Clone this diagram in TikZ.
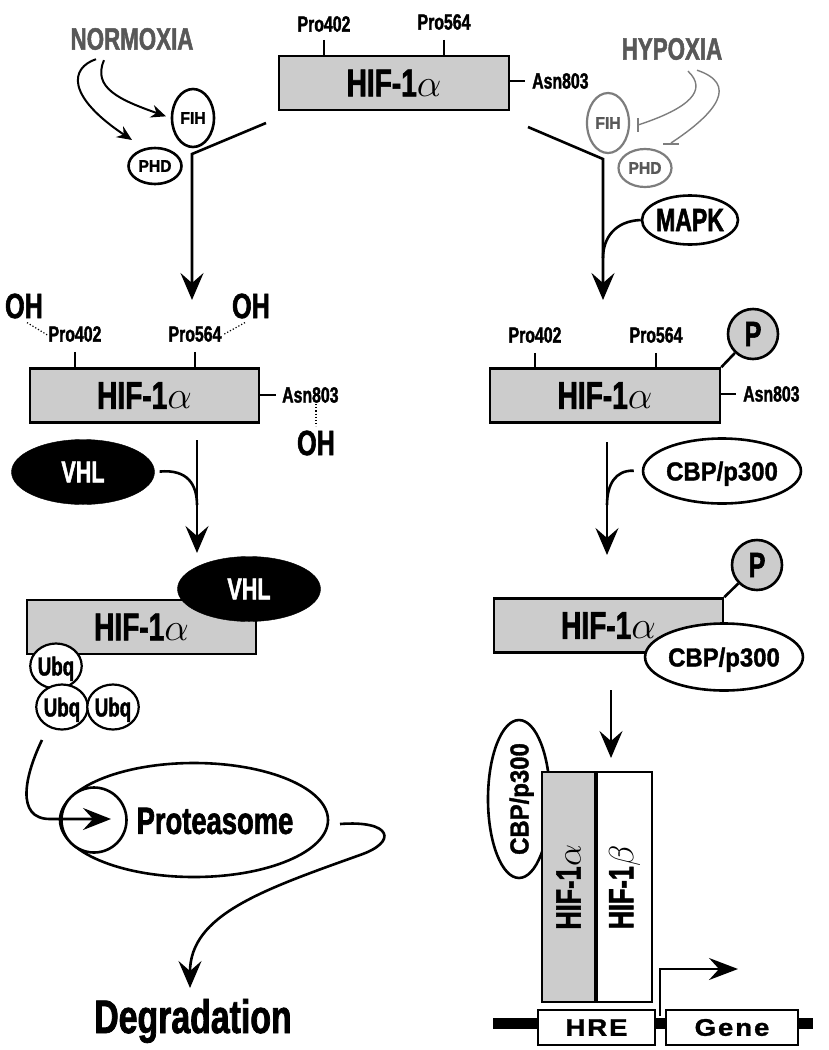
\RequirePackage{fix-cm}
\documentclass[tikz,border=0pt]{standalone}
\usepackage{fontspec}
\setmainfont{Liberation Sans}
\newfontfamily\cfam{Liberation Sans}[FakeStretch=0.72,FakeBold=1.6]
\newfontfamily\cwam{Liberation Sans}[FakeStretch=0.92,FakeBold=1.4]
\newfontfamily\cxam{Liberation Sans}[FakeStretch=1.15,LetterSpace=8,FakeBold=1.2]
\usetikzlibrary{arrows.meta,shapes.geometric,calc}
\definecolor{boxgray}{RGB}{204,204,204}
\definecolor{txtgray}{RGB}{88,88,88}
\definecolor{lngray}{RGB}{125,125,125}
\newcommand\fsz[1]{\fontsize{#1}{#1}\selectfont}
\newcommand\hifa[1]{{\fsz{#1}\cfam\bfseries HIF-1}{\fsz{#1}$\alpha$}}
\newcommand\hifb[1]{{\fsz{#1}\cfam\bfseries HIF-1}{\fsz{#1}$\beta$}}
\begin{document}
\begin{tikzpicture}[x=1pt,y=-1pt,line join=miter,
  ln/.style={line width=2.6pt},
  thin/.style={line width=2pt},
  bigtip/.style={-{Stealth[length=27pt,width=23pt,inset=10pt]}},
  arr/.style={ln,bigtip},
  hbox/.style={draw,line width=2.6pt,fill=boxgray,inner sep=0pt,minimum width=229pt,minimum height=54pt},
  lbl/.style={inner sep=0pt,font={\cfam\bfseries\fsz{22}}},
  oh/.style={inner sep=0pt,font={\cfam\bfseries\fsz{35}}},
  dots/.style={line width=1.2pt,dotted},
  ell/.style={ellipse,draw,line width=2.6pt,fill=white,inner sep=0pt},
  small/.style={font={\cwam\bfseries\fsz{17}}},
  cbp/.style={ell,font={\cwam\bfseries\fsz{26}},text depth=0pt},
  vhl/.style={ellipse,draw,fill=black,text=white,inner sep=0pt,minimum width=143pt,minimum height=65pt,font={\cfam\bfseries\fsz{30}}},
  ubq/.style={ellipse,draw,line width=2.2pt,fill=white,inner sep=0pt,minimum width=51pt,minimum height=45pt,font={\cfam\bfseries\fsz{26}},text depth=0pt},
  pc/.style={circle,draw,line width=2.6pt,fill=boxgray,inner sep=0pt,minimum size=50pt,font={\cfam\bfseries\fsz{35}}},
  gtext/.style={inner sep=0pt,text=txtgray,font={\cfam\bfseries\fsz{31}}},
  gell/.style={ellipse,draw=lngray,line width=2.2pt,fill=white,inner sep=0pt,text=txtgray,font={\cwam\bfseries\fsz{17}}},
  gln/.style={draw=lngray,line width=1.4pt},
  dbox/.style={draw,line width=2.6pt,fill=white,inner sep=0pt,minimum height=35pt,font={\cxam\bfseries\fsz{24}}}
]
\useasboundingbox (0,0) rectangle (828,1050);
\fill[white] (0,0) rectangle (828,1050);

% ---------------- top HIF-1alpha ----------------
\node[hbox,minimum width=230pt] (top) at (394,83) {\hifa{39}};
\node[lbl] (t402) at (324,24) {Pro402};
\node[lbl] (t564) at (444,22) {Pro564};
\draw[ln] ($(t402.south)+(0,8)$) -- (t402.south |- top.north);
\draw[ln] ($(t564.south)+(0,10)$) -- (t564.south |- top.north);
\node[lbl,anchor=west] (tasn) at (532,81) {Asn803};
\draw[ln,shorten >=7pt] (top.east |- tasn) -- (tasn.west);

% ---------------- normoxia ----------------
\node[gtext] (norm) at (132,39) {NORMOXIA};
\node[ell,small,minimum width=42pt,minimum height=58pt] (fih) at (193,118) {FIH};
\node[ell,small,minimum width=53pt,minimum height=36pt] (phd) at (155,166) {PHD};
\coordinate (phdtip) at (132,140);
\draw[thin,-{Stealth[length=15pt,width=13pt,inset=5pt]},shorten >=5pt]
  ($(norm.south)+(-28,10)$) .. controls (92,88) and (120,100) .. (fih.west);
\draw[thin,-{Stealth[length=15pt,width=13pt,inset=5pt]}]
  ($(norm.south)+(-36,9)$) .. controls (70,68) and (66,96) .. (phdtip);

\coordinate (ly1) at (266,123);
\coordinate (ly2) at (192,154);
\coordinate (ly3) at (192,300);
\draw[arr] (ly1) -- (ly2) -- (ly3);

% ---------------- hypoxia ----------------
\node[gtext] (hyp) at (672,49) {HYPOXIA};
\node[gell,minimum width=42pt,minimum height=60pt] (gfih) at (608,123) {FIH};
\node[gell,minimum width=53pt,minimum height=38pt] (gphd) at (645,168) {PHD};
\coordinate (barA) at (638,125);
\coordinate (barB) at (671,143);
\draw[gln] ($(hyp.south)+(16,11)$) .. controls (708,90) and (690,108) .. (barA);
\draw[gln] ($(barA)+(0,-7)$) -- ($(barA)+(0,7)$);
\draw[gln] ($(hyp.south)+(25,10)$) .. controls (738,84) and (718,112) .. (barB);
\draw[gln] ($(barB)+(-8,1)$) -- ($(barB)+(8,1)$);

\node[ell,minimum width=93pt,minimum height=49pt,font={\cfam\bfseries\fsz{32}}] (mapk) at (690,220) {MAPK};
\coordinate (ry1) at (528,127);
\coordinate (ry2) at (603,159);
\coordinate (ry3) at (603,300);
\coordinate (rym) at (603,258);
\draw[arr] (ry1) -- (ry2) -- (ry3);
\draw[ln] (mapk.west) .. controls (615,221) and (603,238) .. (rym);

% ---------------- middle left ----------------
\node[hbox] (ml) at (144.5,395.5) {\hifa{39}};
\node[lbl] (m402) at (75,334) {Pro402};
\node[lbl] (m564) at (195,334) {Pro564};
\draw[ln] ($(m402.south)+(0,10)$) -- (m402.south |- ml.north);
\draw[ln] ($(m564.south)+(0,10)$) -- (m564.south |- ml.north);
\node[oh] (oh1) at (24,306) {OH};
\node[oh] (oh2) at (251,306) {OH};
\draw[dots] ($(oh1.south)+(3,4)$) -- ($(m402.west)+(-1,1)$);
\draw[dots] ($(oh2.south)+(-6,4)$) -- ($(m564.east)+(1,1)$);
\node[lbl,anchor=west] (masn) at (282,395) {Asn803};
\draw[ln,shorten >=6pt] (ml.east |- masn) -- (masn.west);
\node[oh] (oh3) at (316,443) {OH};
\draw[dots,shorten >=4pt,shorten <=1pt] (masn.south -| oh3) -- (oh3.north);

\node[vhl] (vhl1) at (83,472) {VHL};
\coordinate (la1) at (197,440);
\coordinate (la2) at (197,553);
\coordinate (lam) at (197,505);
\draw[arr] (la1) -- (la2);
\draw[ln,shorten <=5pt] (vhl1.east) .. controls (188,469) and (197,485) .. (lam);

% ---------------- bottom left ----------------
\node[hbox] (bl) at (141.5,627) {\hifa{39}};
\node[vhl] (vhl2) at (249,589) {VHL};
\node[ubq] (u1) at (56,666) {Ubq};
\node[ubq] (u2) at (62,707) {Ubq};
\node[ubq] (u3) at (113,707) {Ubq};

% ---------------- proteasome ----------------
\node[ellipse,draw,ln,inner sep=0pt,minimum width=268pt,minimum height=114pt] (prot) at (194,820) {};
\node[circle,draw,ln,fill=white,inner sep=0pt,minimum size=65pt] (pcore) at (94,820) {};
\node[inner sep=0pt,font={\cfam\bfseries\fsz{38}}] (ptxt) at (215,821) {Proteasome};
\coordinate (pin) at (42,740);
\coordinate (pmid) at (50,819);
\coordinate (ptip) at (111,819);
\draw[ln,-{Stealth[length=28pt,width=22pt,inset=10pt]}] (pin) .. controls (25,775) and (15,819) .. (pmid) -- (ptip);
\coordinate (pout) at (340,824);
\coordinate (pturn) at (360,855);
\coordinate (dtip) at (190,988);
\draw[arr] (pout) .. controls (392,820) and (398,842) .. (pturn) .. controls (262,890) and (190,915) .. (dtip);
\node[inner sep=0pt,font={\cfam\bfseries\fsz{47}},anchor=base] (deg) at (193,1033) {Degradation};

% ---------------- middle right ----------------
\node[hbox,minimum width=230pt] (mr) at (605,395.5) {\hifa{39}};
\node[lbl] (r402) at (535,335) {Pro402};
\node[lbl] (r564) at (656,335) {Pro564};
\draw[ln] ($(r402.south)+(0,10)$) -- (r402.south |- mr.north);
\draw[ln] ($(r564.south)+(0,10)$) -- (r564.south |- mr.north);
\node[pc] (p1) at (753,334) {P};
\draw[ln] (mr.north east) -- (p1);
\node[lbl,anchor=west] (rasn) at (743,394) {Asn803};
\draw[ln,shorten >=7pt] (mr.east |- rasn) -- (rasn.west);

\node[cbp,minimum width=142pt,minimum height=65pt] (cbp1) at (722,471) {CBP/p300};
\coordinate (ra1) at (607,442);
\coordinate (ra2) at (607,555);
\coordinate (ram) at (607,505);
\draw[arr] (ra1) -- (ra2);
\draw[ln,shorten <=8pt] (cbp1.west) .. controls (615,470) and (607,485) .. (ram);

% ---------------- bottom right ----------------
\node[hbox] (br) at (608.5,625.5) {\hifa{39}};
\node[pc] (p2) at (757,565) {P};
\draw[ln] (br.north east) -- (p2);
\node[cbp,minimum width=143pt,minimum height=67pt] (cbp2) at (724,657) {CBP/p300};
\coordinate (ba1) at (611,690);
\coordinate (ba2) at (611,758);
\draw[arr] (ba1) -- (ba2);

% ---------------- dimer on DNA ----------------
\node[cbp,rotate=90,minimum width=140pt,minimum height=62pt] (cbp3) at (519,799) {CBP/p300};
\node[draw,line width=2.6pt,fill=boxgray,inner sep=0pt,rotate=90,minimum width=230pt,minimum height=53pt] (va) at (568.5,887) {\hifa{35}};
\node[draw,line width=2.6pt,fill=white,inner sep=0pt,rotate=90,minimum width=230pt,minimum height=55pt] (vb) at (624.5,887) {\hifb{35}};

\coordinate (dnaL) at (493,1023);
\coordinate (dnaR) at (813,1023);
\draw[line width=11pt] (dnaL) -- (dnaR);
\node[dbox,minimum width=117pt] (hre) at (596.5,1027.5) {HRE};
\node[dbox,minimum width=132pt] (gene) at (732,1027.5) {Gene};
\coordinate (tss) at (660,1016);
\coordinate (ttip) at (738,969);
\draw[line width=2pt,-{Stealth[length=29pt,width=22pt,inset=10pt]}] (tss) |- (ttip);
\end{tikzpicture}
\end{document}
